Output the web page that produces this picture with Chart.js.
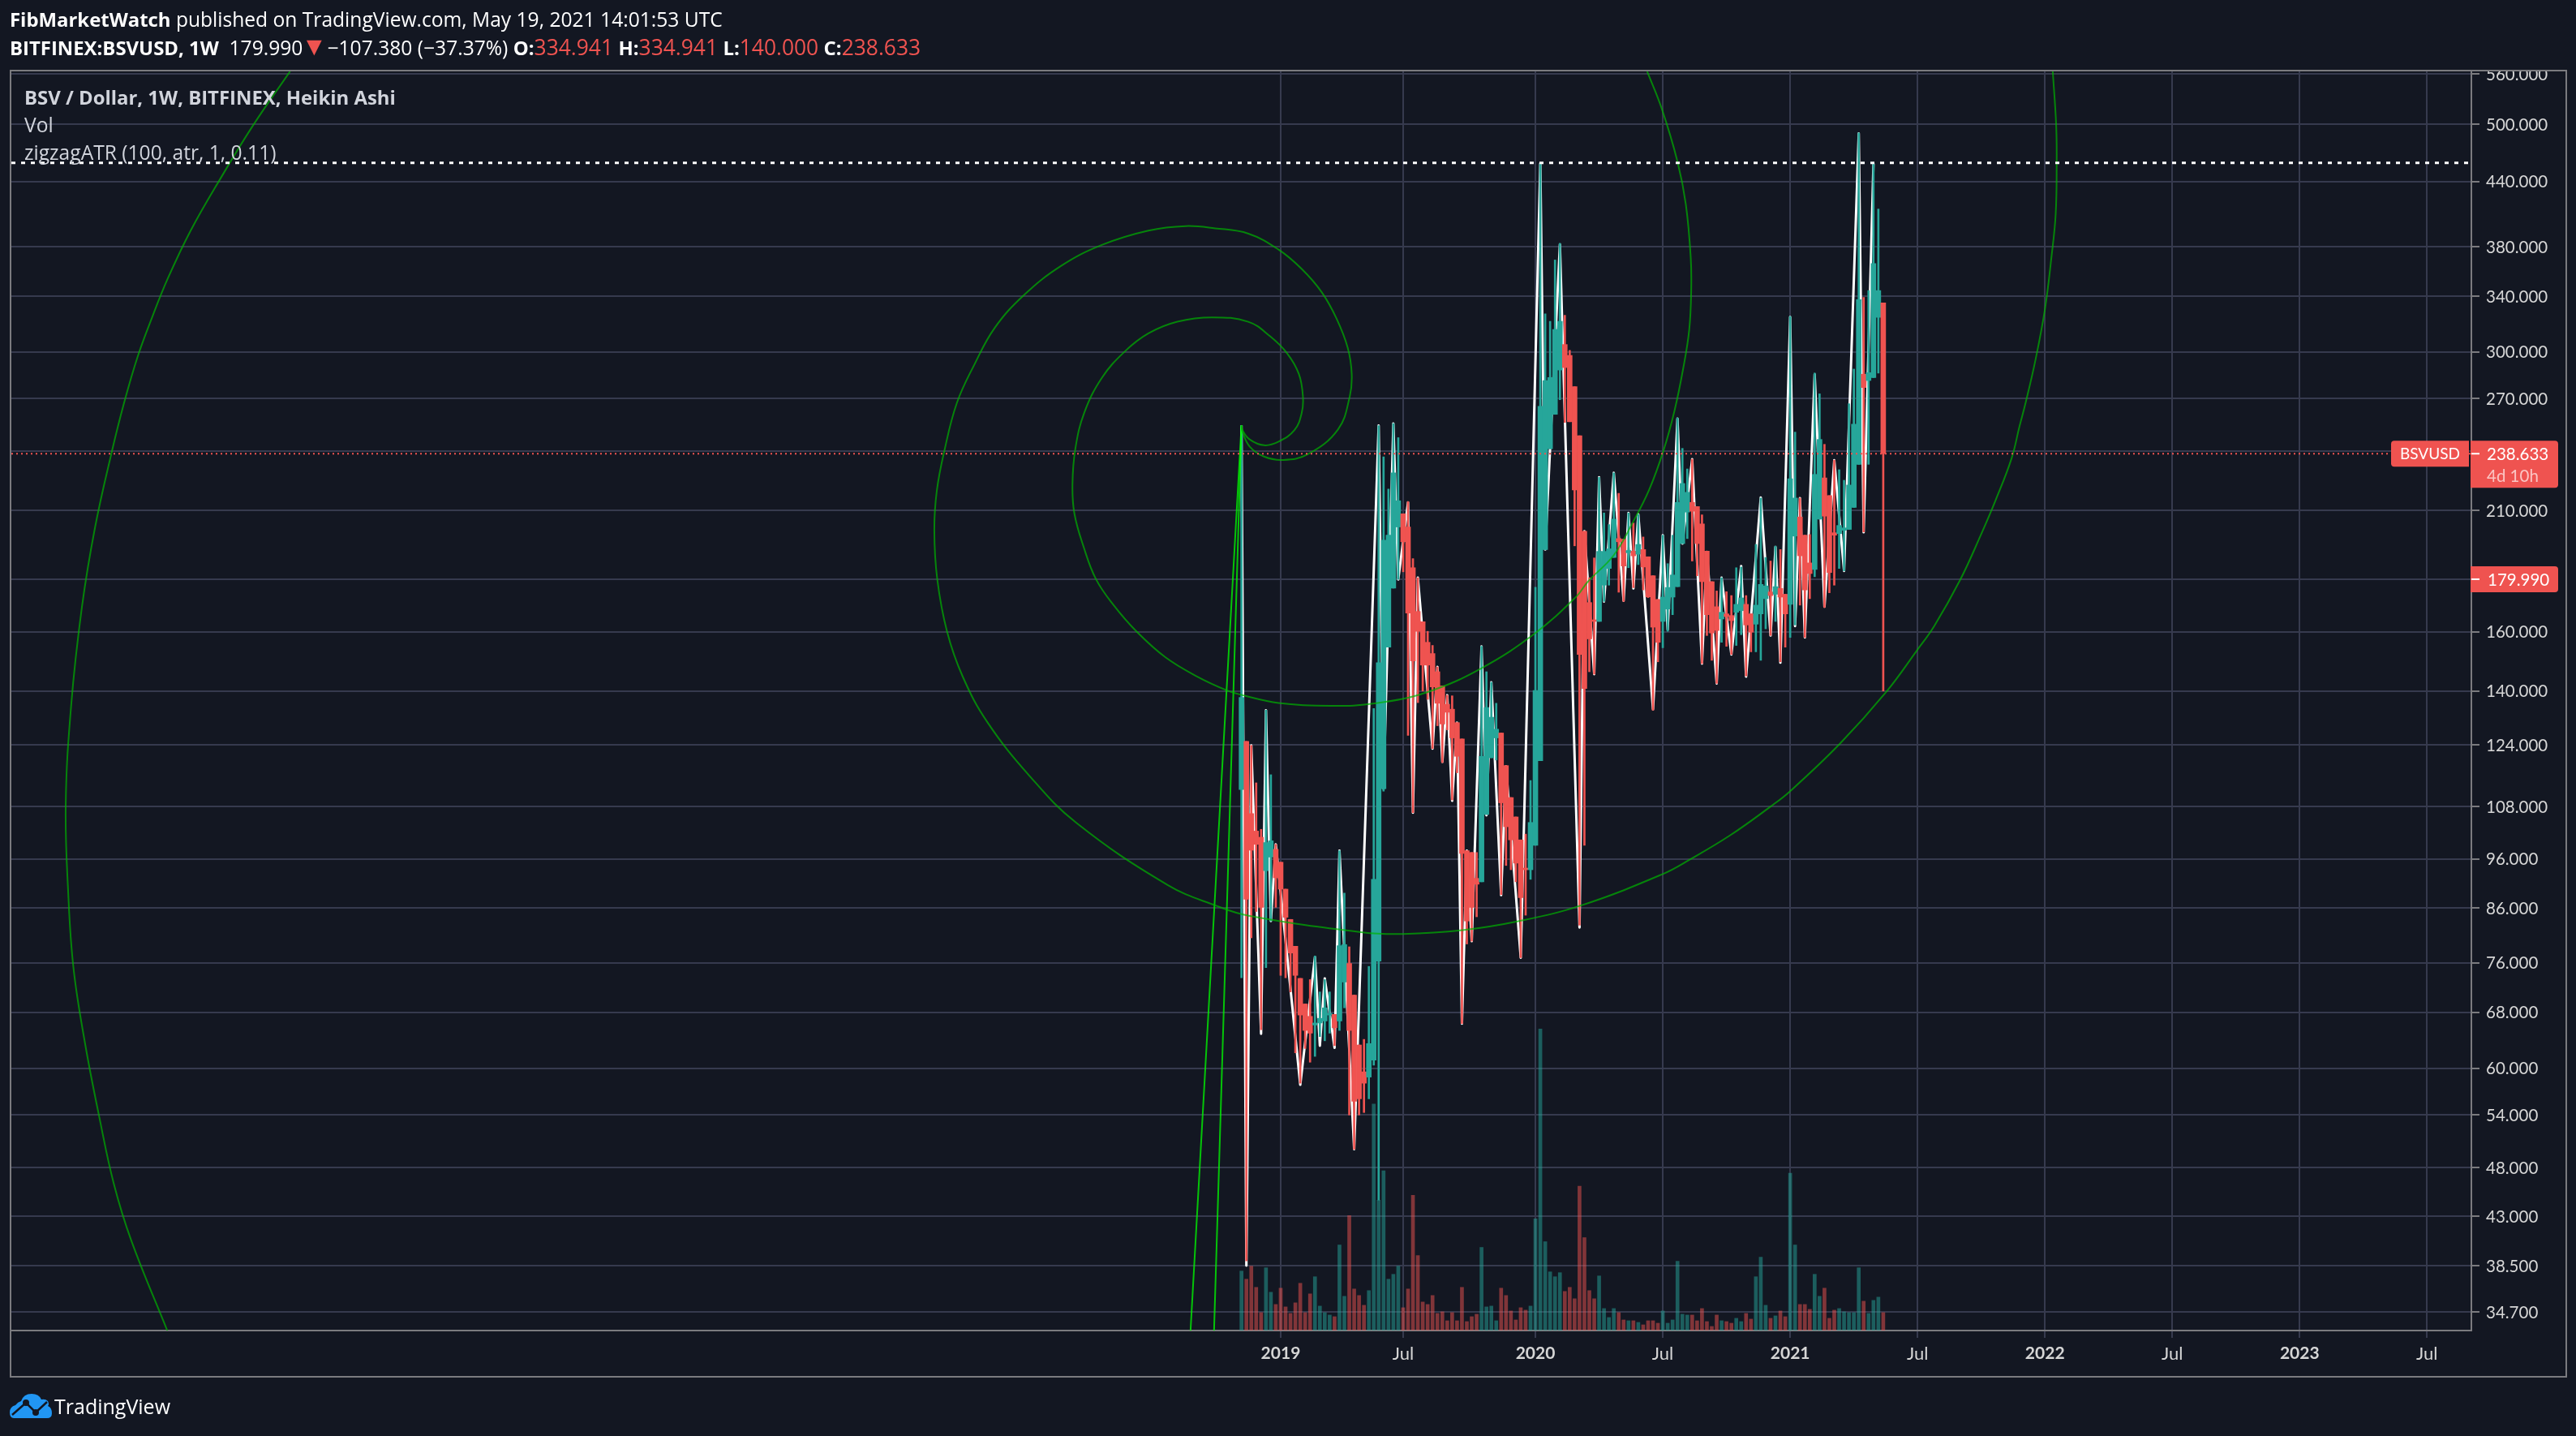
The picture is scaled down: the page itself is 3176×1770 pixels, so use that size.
<!DOCTYPE html>
<html>
<head>
<meta charset="utf-8">
<title>BSVUSD</title>
<script src="https://cdn.jsdelivr.net/npm/chart.js@4"></script>
<style>
    html, body { margin: 0; padding: 0; background: #131722; }
    body { width: 3176px; height: 1770px; position: relative; overflow: hidden; font-family: "Open Sans", sans-serif; }
    canvas { position: absolute; left: 0; top: 0; }
    .txt { position: absolute; white-space: pre; line-height: 30px; height: 30px; }
    .head { color: #fff; font-size: 24.6px; }
    .legend { color: #d1d4dc; font-size: 24.6px; }
    .red { color: #ef5350; font-size: 26.4px; }
    .arrow { color: #ef5350; font-size: 32px; line-height: 20px; margin-right: -6px; margin-left: -2px; }
    b { font-weight: 700; font-size: 23.9px; }
    .logo { position: absolute; left: 12px; top: 1718px; }
</style>
</head>
<body>
<canvas id="chart" width="3176" height="1770"></canvas>

<div class="txt head" style="left:12px; top:9px;"><b>FibMarketWatch</b> published on TradingView.com, May 19, 2021 14:01:53 UTC</div>
<div class="txt head" style="left:12px; top:43px;"><b>BITFINEX:BSVUSD, 1W</b>  179.990<span class="arrow">▼</span> −107.380 (−37.37%) <b>O:</b><span class="red">334.941</span> <b>H:</b><span class="red">334.941</span> <b>L:</b><span class="red">140.000</span> <b>C:</b><span class="red">238.633</span></div>
<div class="txt legend" style="left:30px; top:105px;"><b>BSV / Dollar, 1W, BITFINEX, Heikin Ashi</b></div>
<div class="txt legend" style="left:30px; top:139px;">Vol</div>
<div class="txt legend" style="left:30px; top:173px;">zigzagATR (100, atr, 1, 0.11)</div>

<svg class="logo" width="52" height="31" viewBox="0 0 52 31">
    <path fill="#2196f3" d="M5 30 Q0 30 0 23 Q0 16 7 14 Q10 10 14 9 Q17 0 27 0 Q36 0 39 7 Q44 6 47 9 Q49 13 47 15 Q52 17 52 24 Q52 30 46 30 Z"/>
    <polyline points="3,26 20,11 32,23 46,10" stroke="#131722" stroke-width="2.5" fill="none"/>
    <circle cx="20" cy="11" r="4" fill="#131722"/>
    <circle cx="32" cy="23" r="4" fill="#131722"/>
</svg>
<div class="txt" style="left:67px; top:1718px; color:#fff; font-size:25px;">TradingView</div>

<script>
// -------- DATA -------- //

// weeks are counted from the first bar of 2019, the first candle sits 8 weeks before it
const firstWeek = -8;

const opens = [
    112.2, 125, 106.3, 102.2, 100.8, 93.5, 96.4, 98.1, 95.3, 89.7,
    83.8, 78.9, 73.4, 69.3, 67.4, 66.1, 66.4, 66.7, 67.6, 67.7,
    66.7, 72.8, 75.9, 70.7, 63.2, 59.5, 58.8, 61.1, 76.3, 112.4,
    154.5, 176.4, 202.4, 208.5, 202.4, 184.7, 167.4, 163.6, 156.2, 152.3,
    146.2, 141.6, 135.9, 134.4, 130.4, 125.7, 97.8, 97.4, 91.9, 91.2,
    106.1, 120.5, 126, 127.4, 118.4, 110.2, 105.5, 100.2, 94, 93.7,
    99, 119.7, 192.4, 241.3, 260.7, 288, 305, 297.6, 277.4, 248.5,
    200.5, 170.8, 164, 163.7, 177.6, 184.4, 189, 197.2, 196.9, 191,
    191.7, 190.4, 192.4, 189.3, 181.4, 172, 163.7, 168.3, 172.9, 177,
    195, 209.3, 213.9, 211.9, 203.8, 191.7, 179, 169.2, 164.6, 166.5,
    165.9, 167.1, 167.7, 170.1, 166.5, 162.7, 166.5, 172.3, 174.9, 174,
    176.3, 174, 170.1, 198.3, 207, 198.7, 186.7, 184, 206, 226,
    217.2, 199.8, 199.4, 200.9, 201.3, 211.5, 233, 285.3, 281.3, 283.2,
    324.2, 334.941
];
const closes = [
    138, 87.7, 97.9, 99.2, 86.1, 99.6, 100, 92, 89.7, 84.2,
    77.7, 73.9, 67.6, 65.3, 64.9, 66.4, 67.1, 68.7, 67.8, 65.7,
    79, 79.2, 65.3, 55.7, 56, 58, 63.4, 91.7, 149.2, 196.5,
    198.7, 228.6, 214.7, 195.8, 166.8, 149.8, 160.1, 148.4, 148.4, 141.3,
    136.2, 130, 133.5, 126, 120.9, 97.2, 83.5, 86.1, 90.7, 120.9,
    134.9, 132, 128.5, 108.9, 103.2, 100.2, 95.1, 88, 93.7, 104.2,
    140.2, 265.5, 281.3, 283.2, 315.5, 321.3, 289.6, 256.4, 220, 152,
    140.8, 157.4, 163.7, 191.6, 191.6, 192.7, 206, 195.8, 185.4, 192,
    189.7, 194.6, 185, 173, 161.6, 156.2, 172.9, 176.7, 181.7, 213.9,
    223.2, 218.8, 209.7, 195, 179, 166.2, 159.5, 160.4, 167.1, 165.5,
    164, 170.1, 172.6, 162.4, 159.8, 169.8, 177.9, 177.3, 173.5, 177,
    172.9, 166.5, 225.6, 216, 189.7, 175.7, 182.3, 227.8, 246.4, 207.4,
    182.7, 198.7, 203.1, 202, 222.4, 255, 337.4, 276.9, 286.3, 365.8,
    344.3, 238.633
];
const highs = [
    254.2, 125, 123.9, 113.9, 102.6, 134.1, 116, 99.2, 95.3, 89.7,
    83.8, 78.9, 73.4, 69.3, 73.2, 77.2, 71.2, 73.2, 71.2, 67.7,
    97.8, 88.9, 78.8, 70.7, 63.2, 64, 75.4, 134.6, 254.2, 237,
    220.4, 255.4, 247.4, 208.5, 214.3, 188.5, 180.6, 163.6, 160.1, 155.1,
    147.8, 141.6, 138.7, 138.5, 130.4, 125.7, 97.8, 97.4, 97.4, 154.8,
    146.2, 142.8, 136.2, 127.4, 118.4, 110.2, 105.5, 100.2, 101.5, 114.5,
    176.8, 458, 326.8, 321.3, 368.8, 382.8, 325.7, 301, 277.4, 248.5,
    200.5, 180.6, 188.8, 226.3, 208.9, 203.5, 228.6, 218.3, 196.9, 208.9,
    204.2, 208.2, 197.9, 189.3, 181.4, 172, 198.7, 186.4, 198.7, 258.6,
    241.5, 230.6, 235.7, 211.9, 208, 191.7, 179, 175.3, 180.6, 175,
    173.5, 184.7, 185, 173.5, 166.5, 194.6, 216, 189, 187.5, 193.9,
    192.4, 174, 324.8, 250.5, 216, 198.7, 199, 286, 273, 243.7,
    217.2, 235.2, 230.2, 224.8, 267, 288.6, 490.7, 339, 344.3, 458,
    413.5, 334.941
];
const lows = [
    73.5, 38.9, 80.4, 85.3, 65.4, 75.2, 83.5, 86.1, 73.9, 73.5,
    71.2, 62.1, 58, 62.7, 60.8, 61.6, 64.4, 63.8, 64.9, 63.1,
    65.3, 68.7, 54, 50, 54, 54.3, 56, 60.4, 44.6, 111.8,
    154.5, 176.4, 179.9, 183, 126.7, 106.5, 136.4, 140, 137.4, 123,
    129.5, 119.2, 128.3, 109.6, 116.5, 66.3, 79.3, 79.8, 84.3, 91.2,
    106.1, 120.5, 119.9, 88.6, 94.6, 93.7, 91.2, 76.9, 84.6, 91.7,
    99, 119.7, 192.4, 241.3, 260.7, 269.4, 256, 256.4, 194, 82.7,
    99, 146.2, 145.4, 163.7, 171.2, 177.6, 189, 174.8, 171.2, 184.7,
    176.6, 186, 175.7, 172.7, 134.1, 149.5, 154.3, 160.1, 166.2, 177,
    195, 197.2, 187.5, 181.4, 148.9, 158.6, 150, 142.4, 156.2, 154.8,
    152, 155.1, 158.9, 144.8, 152.9, 152.9, 150, 161, 158.6, 163.7,
    149.5, 154.5, 157.9, 162.4, 169.8, 157.9, 172.3, 181, 206, 168.9,
    174.6, 177.6, 184.4, 183.4, 201.3, 211.5, 233, 200.2, 233, 283.2,
    286, 140
];
// relative volume
const volumes = [
    73, 63, 79, 53, 22, 77, 47, 32, 52, 29,
    21, 34, 58, 22, 45, 66, 30, 22, 19, 17,
    105, 42, 141, 51, 43, 31, 49, 278, 160, 196,
    63, 69, 79, 28, 51, 166, 92, 35, 32, 43,
    21, 23, 12, 22, 12, 53, 11, 17, 20, 102,
    29, 30, 12, 52, 43, 24, 13, 28, 25, 30,
    137, 370, 109, 72, 66, 71, 48, 53, 39, 177,
    114, 49, 39, 67, 27, 16, 27, 22, 13, 12,
    12, 10, 7, 12, 12, 9, 24, 9, 13, 85,
    20, 19, 19, 12, 27, 11, 5, 19, 12, 11,
    9, 15, 11, 21, 14, 66, 90, 31, 15, 18,
    24, 17, 193, 105, 32, 32, 26, 69, 42, 52,
    15, 25, 27, 23, 22, 22, 77, 36, 21, 37,
    41, 22
];

const zigzagBars = [
    0, 1, 2, 4, 5, 6, 7, 12, 15, 16, 17, 19, 20, 23, 28, 29, 31, 32, 34, 35,
    36, 39, 40, 41, 42, 43, 44, 45, 46, 47, 49, 50, 51, 53, 54, 57, 61, 62, 65, 69,
    70, 72, 73, 74, 76, 78, 79, 80, 81, 84, 86, 87, 89, 90, 92, 94, 95, 97, 98, 100,
    102, 103, 106, 108, 109, 110, 112, 113, 114, 115, 117, 119, 121, 123, 126, 127, 129
];
const zigzagPrices = [
    254.2, 38.5, 123.9, 64.8, 134.1, 83.5, 99.2, 57.8, 77, 63.1, 73.4, 62.8, 97.8, 50, 254.2, 112.4, 255.4, 179.9, 213.9, 106.5,
    180.6, 123, 147.8, 119.4, 138.7, 109.4, 130.4, 66.3, 97.8, 79.8, 154.8, 105.9, 142.8, 88.5, 118.2, 76.9, 458, 192.4, 382, 82.3,
    200.5, 145.4, 226.3, 171.2, 228.6, 171.5, 208.9, 176.3, 208.2, 134.4, 198.7, 160.7, 258.2, 195, 235.7, 148.9, 191.4, 142.4, 180.6, 152,
    185.4, 144.6, 216.3, 158.6, 193.5, 149.2, 324.4, 162, 216, 157.9, 285.3, 169.2, 235.2, 183.4, 490, 200, 458
];

// fibonacci spiral drawing, inner turn
const spiralAWeeks = [
    -8, -7.8, -6.34, -3.38, -0.43, 2.81, 4.3, 4.54, 3.71, 1.32, -2.2, -6.62, -14, -21.1, -27, -31.8, -36.5, -40.1, -41.9, -42.5,
    -42.1, -40.2, -37.7, -34.1, -29.4, -23.5, -17, -11.1, -7.5, -0.43, 10.2, 19.5, 30, 41, 52, 60.3, 62.7, 68, 71.9, 75.2,
    78.1, 80.4, 82.2, 83.4, 83.8, 83.7, 82.7, 81, 77.8, 74.8
];
const spiralAPrices = [
    254.2, 251.6, 246.4, 243.2, 245.2, 251.6, 261.6, 271.4, 285.5, 299, 310.8, 321, 324.2, 321, 312.7, 300.3, 283, 261.6, 241.5, 222.6,
    208.5, 193.4, 180, 169.8, 160, 151, 144.6, 140.3, 138.6, 136.3, 135.4, 136.2, 139.7, 147.4, 159.5, 173, 179, 190, 204.6, 220,
    240, 263, 289.6, 315.5, 344.4, 371, 418, 460, 518, 563.5
];
// fibonacci spiral drawing, outer turn
const spiralBWeeks = [
    -8, -7.8, -6.3, -3.4, 0.46, 5.46, 11.7, 14.1, 14.5, 13.7, 11.4, 8.4, 4.3, -0.43, -6.6, -13.4, -19.4, -27, -36.5, -44.8,
    -52.5, -58.4, -62.5, -66.1, -68.7, -70.2, -70.7, -70.1, -68.1, -64.9, -59.9, -51.2, -41.7, -23, -13.4, -6.5, 16.7, 25, 37.1, 48.7,
    61.4, 78, 83.4, 91.7, 100, 104, 114.1, 123.6, 129.8, 133.4, 138.7, 142.9, 146, 149.2, 150.8, 152.1, 154.1, 156, 157.3, 158.2,
    158.4, 158.3, 157.6
];
const spiralBPrices = [
    254.2, 250.6, 242.4, 237.1, 235.3, 238.2, 252, 271.4, 285.5, 302.6, 323.3, 342.9, 361.4, 377.5, 391.3, 396, 398, 394, 381.5, 364,
    340.5, 316.5, 291.7, 267.4, 239.6, 219.4, 201, 180, 160, 144.6, 130.6, 115.6, 104.1, 90.5, 86.5, 84.5, 81.4, 81.1, 81.8, 83.5,
    86.5, 92.8, 95.8, 101.2, 108, 111.8, 124.3, 139.7, 153.2, 162, 179.7, 198.7, 215.3, 236.2, 253.6, 268, 295, 330, 370, 409,
    459.5, 499, 563.5
];
// the part of the spiral that comes back in on the left
const spiralCWeeks = [-202.2, -209.8, -216.4, -222.5, -227.2, -230.3, -233.3, -236.1, -238.6, -242, -244.7, -246.9, -248, -247.5, -246.4, -244, -241.2, -238.2, -234.6, -227.2];
const spiralCPrices = [563.5, 498.7, 443, 394, 353.5, 324.8, 297, 267.4, 239.6, 202.4, 169, 135.4, 108.5, 89.1, 75, 63.2, 53.9, 46.3, 40.7, 33.2];

// the two straight lines that run down from the first top
const rayWeeks = [-8, -18.4, -13.6];
const rayPrices = [254.2, 33.27, 33.27];

const levelPrice = 458.8;
const lastPrice = 238.633;
const currentPrice = 179.99;
const countdown = '4d 10h';
const symbolName = 'BSVUSD';

const yTicks = [560, 500, 440, 380, 340, 300, 270, 240, 210, 180, 160, 140, 124, 108, 96, 86, 76, 68, 60, 54, 48, 43, 38.5, 34.7];
const xTickWeeks = [0, 25, 52, 78, 104, 130, 156, 182, 208, 234];
const xTickLabels = ['2019', 'Jul', '2020', 'Jul', '2021', 'Jul', '2022', 'Jul', '2023', 'Jul'];

const UP = '#26a69a';
const DOWN = '#ef5350';
const BG = '#131722';
const GRID = '#363a4e';
const LINE = '#7b7b7f';
const LABEL = '#d6d6d6';
const TICK_FONT = 'Lato';


// -------- HELPER -------- //

function toPoints(xs, ys) {
    return xs.map((x, i) => ({ x: x, y: ys[i] }));
}

function candleColor(i) {
    return closes[i] >= opens[i] ? UP : DOWN;
}

function volumeColor(i) {
    return closes[i] >= opens[i] ? 'rgba(38,166,154,0.5)' : 'rgba(239,83,80,0.5)';
}

function greenLine(points, color, order) {
    return {
        type: 'line', data: points, borderColor: color, borderWidth: 2, pointRadius: 0,
        tension: 0.4, fill: false, order: order, yAxisID: 'y'
    };
}

let weeks = opens.map((o, i) => firstWeek + i);
let colors = opens.map((o, i) => candleColor(i));
let rightEnd = 243.05;
let leftEnd = -259.1;


// -------- PRICE TAGS + FRAME -------- //

const frame = {
    id: 'frame',
    afterDraw(chart) {
        const c = chart.ctx;
        const area = chart.chartArea;
        const y = chart.scales.y;

        // the top tick label gets cut by the frame
        c.fillStyle = BG;
        c.fillRect(area.right + 1, 60, 125, 27);

        c.strokeStyle = LINE;
        c.lineWidth = 2;
        c.strokeRect(13, 87, 3151, 1610);

        c.font = '20.5px ' + TICK_FONT;
        c.textBaseline = 'middle';
        c.textAlign = 'left';

        let lastY = y.getPixelForValue(lastPrice);
        c.fillStyle = DOWN;
        c.beginPath();
        c.roundRect(area.right - 99, lastY - 16, 96, 32, [4, 0, 0, 4]);
        c.fill();
        c.beginPath();
        c.roundRect(area.right - 1, lastY - 16, 108, 58, [0, 4, 4, 0]);
        c.fill();
        c.fillStyle = '#fff';
        c.fillRect(area.right, lastY - 1, 10, 2);
        c.fillText(lastPrice.toFixed(3), area.right + 19, lastY + 1);
        c.fillStyle = '#fbc4c2';
        c.fillText(countdown, area.right + 19, lastY + 28);
        c.fillStyle = '#fff';
        c.font = '19px ' + TICK_FONT;
        c.fillText(symbolName, area.right - 88, lastY + 1);

        c.font = '20.5px ' + TICK_FONT;
        let currentY = y.getPixelForValue(currentPrice);
        c.fillStyle = DOWN;
        c.beginPath();
        c.roundRect(area.right - 1, currentY - 16, 108, 32, [0, 4, 4, 0]);
        c.fill();
        c.fillStyle = '#fff';
        c.fillRect(area.right, currentY - 1, 10, 2);
        c.fillText(currentPrice.toFixed(3), area.right + 20, currentY + 1);
    }
};


// -------- CHART -------- //

new Chart(document.getElementById('chart'), {
    type: 'bar',
    data: {
        datasets: [
            // drawing tools on top
            greenLine(toPoints(spiralAWeeks, spiralAPrices), 'rgba(0,180,0,0.7)', 1),
            greenLine(toPoints(spiralBWeeks, spiralBPrices), 'rgba(0,180,0,0.7)', 1),
            greenLine(toPoints(spiralCWeeks, spiralCPrices), 'rgba(0,180,0,0.7)', 1),
            greenLine(toPoints([rayWeeks[0], rayWeeks[1]], [rayPrices[0], rayPrices[1]]), 'rgba(0,255,0,0.75)', 1),
            greenLine(toPoints([rayWeeks[0], rayWeeks[2]], [rayPrices[0], rayPrices[2]]), 'rgba(0,255,0,0.75)', 1),
            {
                type: 'line', data: toPoints([leftEnd, rightEnd], [lastPrice, lastPrice]),
                borderColor: DOWN, borderWidth: 2, borderDash: [2, 4], pointRadius: 0, order: 0, yAxisID: 'y'
            },
            {
                type: 'line', data: toPoints([leftEnd, rightEnd], [levelPrice, levelPrice]),
                borderColor: '#fff', borderWidth: 3, borderDash: [5, 7], pointRadius: 0, order: 0, yAxisID: 'y'
            },
            // candle bodies
            {
                data: weeks.map((w, i) => ({ x: w, y: [opens[i], closes[i]] })),
                backgroundColor: colors, barThickness: 6, minBarLength: 2, grouped: false, order: 2, yAxisID: 'y'
            },
            // wicks
            {
                data: weeks.map((w, i) => ({ x: w, y: [lows[i], highs[i]] })),
                backgroundColor: colors, barThickness: 2, grouped: false, order: 3, yAxisID: 'y'
            },
            // zigzag
            {
                type: 'line', data: toPoints(zigzagBars.map(b => firstWeek + b), zigzagPrices),
                borderColor: '#ffffff', borderWidth: 3, borderJoinStyle: 'round', pointRadius: 0, order: 4, yAxisID: 'y'
            },
            // volume
            {
                data: weeks.map((w, i) => ({ x: w, y: volumes[i] })),
                backgroundColor: opens.map((o, i) => volumeColor(i)), barThickness: 4, grouped: false, order: 5, yAxisID: 'vol'
            }
        ]
    },
    plugins: [frame],
    options: {
        responsive: false,
        animation: false,
        devicePixelRatio: 1,
        layout: { padding: { left: 14, top: 88, right: 13, bottom: 74 } },
        plugins: { legend: { display: false }, tooltip: { enabled: false } },
        scales: {
            x: {
                type: 'linear',
                offset: false,
                min: leftEnd,
                max: rightEnd,
                afterFit(scale) { scale.height = 56; },
                afterBuildTicks(scale) { scale.ticks = xTickWeeks.map(w => ({ value: w })); },
                border: { color: LINE, width: 2 },
                grid: { offset: false, color: GRID, lineWidth: 2, tickLength: 9, tickColor: GRID, tickWidth: 2 },
                ticks: {
                    autoSkip: false,
                    maxRotation: 0,
                    padding: 7,
                    color: LABEL,
                    font: ctx => {
                        let isYear = ctx.tick && xTickWeeks.indexOf(ctx.tick.value) % 2 == 0;
                        return { family: TICK_FONT, size: isYear ? 21 : 22, weight: isYear ? 'bold' : 'normal' };
                    },
                    callback: value => xTickLabels[xTickWeeks.indexOf(value)]
                }
            },
            y: {
                type: 'logarithmic',
                position: 'right',
                min: 33.27,
                max: 563.4,
                afterFit(scale) { scale.width = 116; },
                afterBuildTicks(scale) { scale.ticks = yTicks.map(v => ({ value: v })); },
                border: { color: LINE, width: 2 },
                grid: { color: GRID, lineWidth: 2, tickLength: 10, tickColor: LINE, tickWidth: 2 },
                ticks: {
                    autoSkip: false,
                    padding: 8,
                    color: LABEL,
                    crossAlign: 'near',
                    labelOffset: 1,
                    font: { family: TICK_FONT, size: 20.5 },
                    callback: value => value.toFixed(3)
                }
            },
            vol: {
                display: false,
                type: 'linear',
                min: 0,
                max: 1545
            }
        }
    }
});
</script>
</body>
</html>
